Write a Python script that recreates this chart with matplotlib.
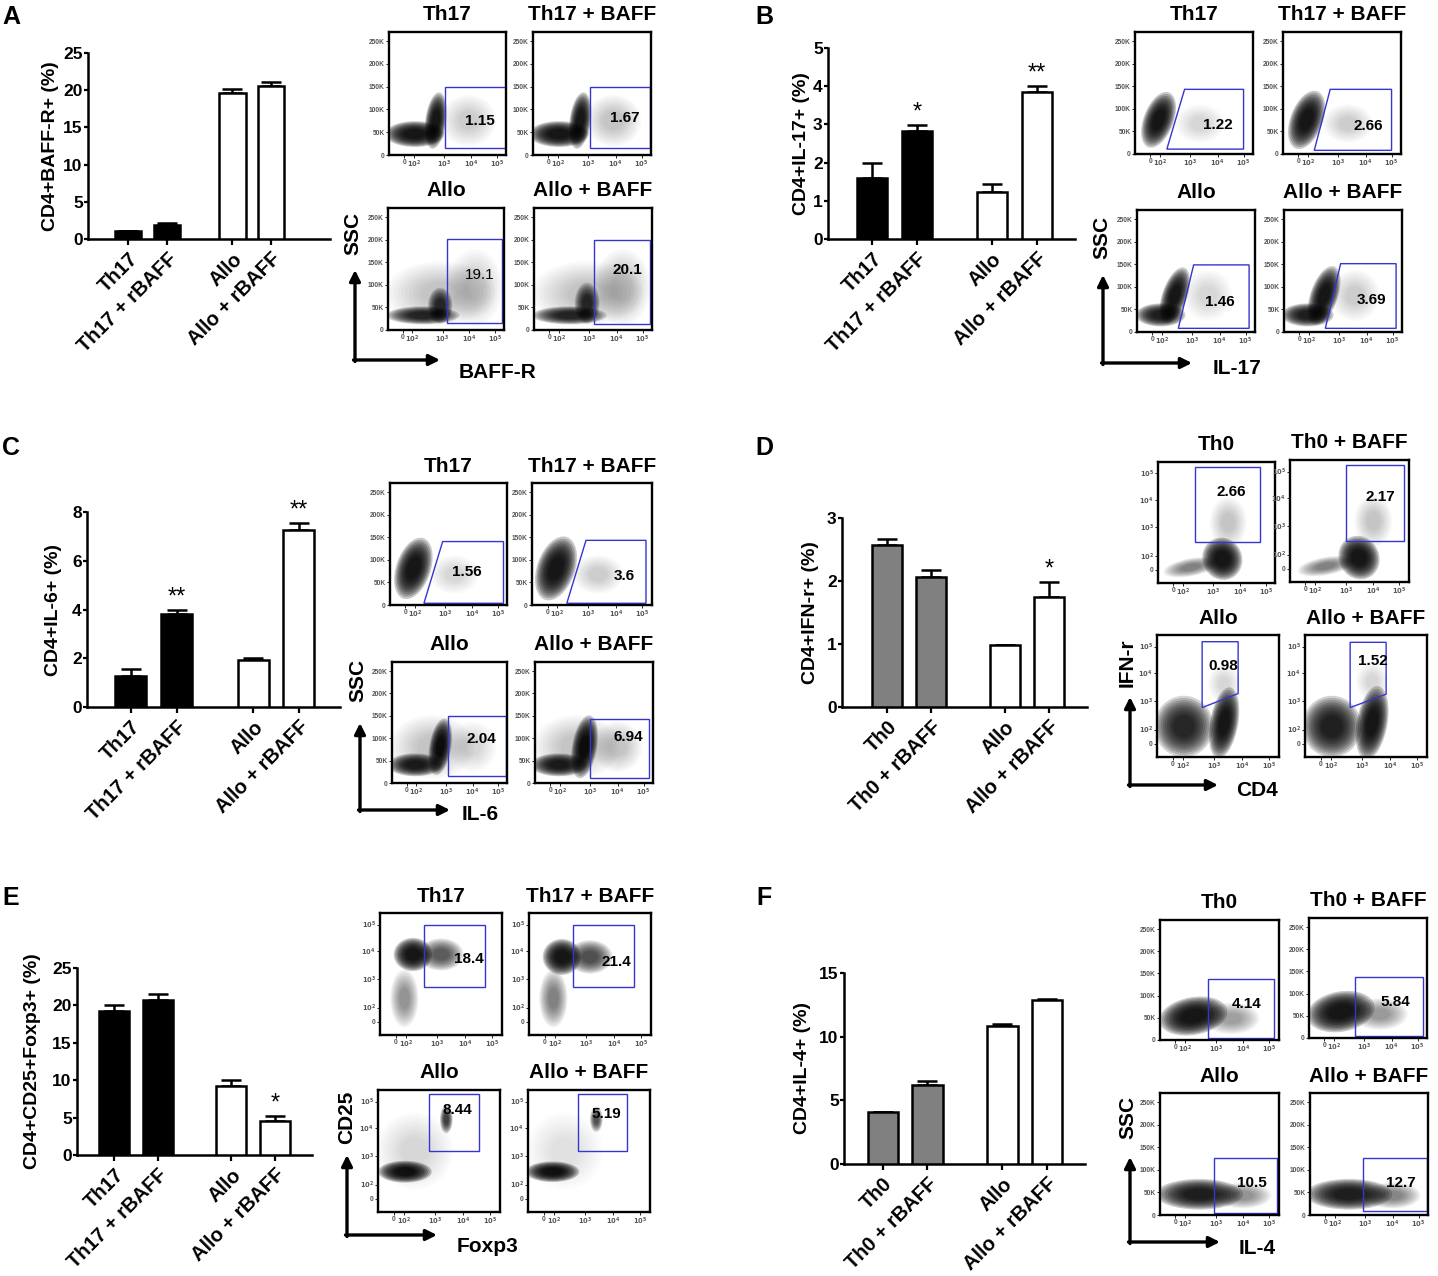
import numpy as np
import matplotlib.pyplot as plt
from matplotlib.patches import Ellipse, Polygon

plt.rcParams['font.family'] = ['Liberation Sans', 'DejaVu Sans']
plt.rcParams['font.weight'] = 'bold'

W, H = 1438, 1276

# ---------------- bar chart values (mean, upper SEM) ----------------
TH17_NAMES = ['Th17', 'Th17 + rBAFF', 'Allo', 'Allo + rBAFF']
TH0_NAMES = ['Th0', 'Th0 + rBAFF', 'Allo', 'Allo + rBAFF']

baffr_mean = [1.1, 1.9, 19.6, 20.5]
baffr_err = [0.0, 0.2, 0.5, 0.6]
baffr_star = ['', '', '', '']

il17_mean = [1.6, 2.82, 1.22, 3.84]
il17_err = [0.39, 0.16, 0.23, 0.17]
il17_star = ['', '*', '', '**']

il6_mean = [1.26, 3.83, 1.92, 7.25]
il6_err = [0.31, 0.17, 0.1, 0.3]
il6_star = ['', '**', '', '**']

ifng_mean = [2.57, 2.07, 0.99, 1.74]
ifng_err = [0.1, 0.11, 0.0, 0.25]
ifng_star = ['', '', '', '*']

treg_mean = [19.3, 20.76, 9.24, 4.6]
treg_err = [0.8, 0.8, 0.8, 0.67]
treg_star = ['', '', '', '*']

il4_mean = [4.12, 6.19, 10.81, 12.86]
il4_err = [0.0, 0.34, 0.19, 0.11]
il4_star = ['', '', '', '']

# ---------------- flow plots: titles and gate percentages ----------------
TH17_TITLES = ['Th17', 'Th17 + BAFF', 'Allo', 'Allo + BAFF']
TH0_TITLES = ['Th0', 'Th0 + BAFF', 'Allo', 'Allo + BAFF']

baffr_pct = ['1.15', '1.67', '19.1', '20.1']
il17_pct = ['1.22', '2.66', '1.46', '3.69']
il6_pct = ['1.56', '3.6', '2.04', '6.94']
ifng_pct = ['2.66', '2.17', '0.98', '1.52']
treg_pct = ['18.4', '21.4', '8.44', '5.19']
il4_pct = ['4.14', '5.84', '10.5', '12.7']

SSC_TICKS = ['0', '50K', '100K', '150K', '200K', '250K']
LOG_TICKS = ['0', r'$10^2$', r'$10^3$', r'$10^4$', r'$10^5$']

# ---------------- layout helpers ----------------
POS = [0, 1, 2.68, 3.68]
BAR_W = 0.68
BLACK, GREY, WHITE = 'black', '#808080', 'white'

fig = plt.figure(figsize=(W / 100, H / 100), dpi=100)


def px_axes(x0, y0, x1, y1):
    return fig.add_axes([x0 / W, 1 - y1 / H, (x1 - x0) / W, (y1 - y0) / H])


def bar_panel(box, xlim, names, mean, err, star, fills, ymax, ystep, ylabel, ylab_x):
    x0, ytop, x1, ybot = box
    ax = px_axes(x0, ytop, x1, ybot)
    ax.bar(POS, mean, width=BAR_W, color=fills, edgecolor='black', linewidth=1.8, zorder=3)
    ax.errorbar(POS, mean, yerr=[np.zeros(4), err], fmt='none', ecolor='black',
                elinewidth=1.8, capsize=7, capthick=1.8, zorder=2)
    for p, m, e, s in zip(POS, mean, err, star):
        if s:
            ax.annotate(s, (p, m + e), xytext=(0, 1), textcoords='offset points',
                        ha='center', va='bottom', fontsize=17, fontweight='normal',
                        annotation_clip=False)
    ax.set_xlim(*xlim)
    ax.set_ylim(0, ymax)
    ticks = np.arange(0, ymax + 0.001, ystep)
    ax.set_yticks(ticks)
    ax.set_yticklabels([f'{v:g}' for v in ticks], fontsize=12.5, fontweight='bold')
    ax.set_xticks(POS)
    ax.set_xticklabels(names, rotation=45, ha='right', rotation_mode='anchor',
                       fontsize=14.5, fontweight='bold')
    for sp in ['top', 'right']:
        ax.spines[sp].set_visible(False)
    for sp in ['left', 'bottom']:
        ax.spines[sp].set_linewidth(1.8)
    ax.tick_params(axis='y', direction='out', length=3, width=1.6, pad=0.8)
    ax.tick_params(axis='x', direction='out', length=4.5, width=1.6, pad=3)
    ax.set_ylabel(ylabel, fontsize=14, fontweight='bold')
    ax.yaxis.set_label_coords((ylab_x + 9 - x0) / (x1 - x0), 0.5)
    ax.patch.set_alpha(0)
    return ax


def draw_cloud(ax, c):
    cx, cy, w, h, ang, d = c
    for k in range(10):
        s = 1.05 - 0.075 * k
        ax.add_patch(Ellipse((cx, cy), w * s, h * s, angle=ang, facecolor='black',
                             edgecolor='none', alpha=0.21 * d))


def flow_plot(box, title, pct, gate, clouds, kind, bold=True):
    x0, y0, x1, y1 = box
    ax = px_axes(x0, y0, x1, y1)
    ax.set_xlim(0, 1)
    ax.set_ylim(0, 1)
    for c in clouds:
        draw_cloud(ax, c)
    ax.add_patch(Polygon(gate, closed=True, fill=False, edgecolor='#3535d0', linewidth=1.0))
    ax.text(*pct[1], pct[0], fontsize=11, fontweight='bold' if bold else 'normal',
            ha='center', va='center')
    ax.set_xticks([0.13, 0.21, 0.47, 0.70, 0.92])
    ax.set_xticklabels(LOG_TICKS)
    if kind == 'ssc':
        ax.set_yticks([0.0, 0.185, 0.37, 0.555, 0.74, 0.925])
        ax.set_yticklabels(SSC_TICKS)
    else:
        ax.set_yticks([0.11, 0.225, 0.46, 0.685, 0.905])
        ax.set_yticklabels(LOG_TICKS)
    ax.tick_params(length=2, width=0.6, labelsize=4.8, labelcolor='#555555', pad=1)
    for sp in ax.spines.values():
        sp.set_linewidth(1.7)
    fig.text((x0 + x1) / 2 / W, 1 - (y0 - 17) / H, title, fontsize=15,
             fontweight='bold', ha='center', va='center')
    return ax


def rect(xa, xb, ya, yb):
    return [(xa, ya), (xa, yb), (xb, yb), (xb, ya)]


def flow_block(boxes, titles, pcts, label_xy, gates, clouds, kinds, bolds=(True,) * 4):
    for i in range(4):
        flow_plot(boxes[i], titles[i], (pcts[i], label_xy[i]), gates[i], clouds[i],
                  kinds, bolds[i])


# ---------------- bar charts ----------------
bar_panel((88, 53, 330, 239), (-1.03, 5.19), TH17_NAMES, baffr_mean, baffr_err, baffr_star,
          [BLACK, BLACK, WHITE, WHITE], 25, 5, 'CD4+BAFF-R+ (%)', 50)
bar_panel((828, 48, 1075, 239), (-0.98, 4.53), TH17_NAMES, il17_mean, il17_err, il17_star,
          [BLACK, BLACK, WHITE, WHITE], 5, 1, 'CD4+IL-17+ (%)', 801)
bar_panel((87, 512, 340, 707), (-0.96, 4.58), TH17_NAMES, il6_mean, il6_err, il6_star,
          [BLACK, BLACK, WHITE, WHITE], 8, 2, 'CD4+IL-6+ (%)', 53)
bar_panel((842, 518, 1087, 707), (-1.02, 4.54), TH0_NAMES, ifng_mean, ifng_err, ifng_star,
          [GREY, GREY, WHITE, WHITE], 3, 1, 'CD4+IFN-r+ (%)', 810)
bar_panel((77, 968, 312, 1155), (-0.85, 4.53), TH17_NAMES, treg_mean, treg_err, treg_star,
          [BLACK, BLACK, WHITE, WHITE], 25, 5, 'CD4+CD25+Foxp3+ (%)', 32)
bar_panel((844, 973, 1085, 1164), (-0.87, 4.53), TH0_NAMES, il4_mean, il4_err, il4_star,
          [GREY, GREY, WHITE, WHITE], 15, 5, 'CD4+IL-4+ (%)', 802)

# ---------------- flow plots ----------------
# A: BAFF-R vs SSC
flow_block(
    [(389, 32, 506, 155), (533, 32, 651, 155), (388, 208, 504, 330), (534, 208, 652, 330)],
    TH17_TITLES, baffr_pct,
    [(0.78, 0.28), (0.78, 0.30), (0.79, 0.45), (0.79, 0.49)],
    [rect(0.48, 1.0, 0.06, 0.55), rect(0.48, 0.995, 0.06, 0.55),
     rect(0.51, 0.985, 0.055, 0.745), rect(0.51, 0.985, 0.05, 0.74)],
    [[(0.22, 0.17, 0.48, 0.2, 0, 1.0), (0.4, 0.28, 0.17, 0.44, -8, 1.0), (0.68, 0.28, 0.45, 0.4, 0, 0.1)],
     [(0.22, 0.17, 0.48, 0.2, 0, 1.0), (0.4, 0.28, 0.17, 0.44, -8, 1.0), (0.68, 0.28, 0.45, 0.4, 0, 0.12)],
     [(0.3, 0.12, 0.6, 0.14, 0, 0.8), (0.45, 0.2, 0.2, 0.28, 0, 0.7), (0.45, 0.3, 0.9, 0.5, 0, 0.12), (0.75, 0.35, 0.45, 0.6, 0, 0.1)],
     [(0.3, 0.12, 0.6, 0.14, 0, 0.8), (0.45, 0.22, 0.2, 0.32, 0, 0.7), (0.45, 0.3, 0.9, 0.5, 0, 0.12), (0.75, 0.35, 0.45, 0.6, 0, 0.12)]],
    'ssc', (True, True, False, True))

# B: IL-17 vs SSC
flow_block(
    [(1135, 32, 1253, 154), (1283, 32, 1401, 154), (1137, 210, 1255, 332), (1284, 210, 1402, 332)],
    TH17_TITLES, il17_pct,
    [(0.70, 0.24), (0.72, 0.23), (0.70, 0.25), (0.74, 0.26)],
    [[(0.27, 0.04), (0.42, 0.53), (0.92, 0.53), (0.92, 0.04)],
     [(0.265, 0.03), (0.40, 0.53), (0.92, 0.53), (0.92, 0.03)],
     [(0.35, 0.03), (0.48, 0.55), (0.95, 0.55), (0.95, 0.03)],
     [(0.35, 0.03), (0.48, 0.56), (0.95, 0.56), (0.95, 0.03)]],
    [[(0.2, 0.28, 0.24, 0.46, -22, 1.0), (0.55, 0.25, 0.4, 0.3, 0, 0.08)],
     [(0.2, 0.28, 0.26, 0.48, -22, 1.0), (0.55, 0.25, 0.4, 0.3, 0, 0.1)],
     [(0.2, 0.14, 0.4, 0.18, 0, 0.9), (0.32, 0.3, 0.2, 0.46, -20, 1.0), (0.6, 0.3, 0.4, 0.4, 0, 0.08)],
     [(0.2, 0.14, 0.42, 0.18, 0, 0.9), (0.34, 0.3, 0.22, 0.48, -20, 1.0), (0.6, 0.3, 0.4, 0.4, 0, 0.1)]],
    'ssc')

# C: IL-6 vs SSC
flow_block(
    [(390, 483, 507, 605), (532, 483, 652, 605), (392, 662, 507, 783), (535, 662, 653, 783)],
    TH17_TITLES, il6_pct,
    [(0.66, 0.27), (0.77, 0.24), (0.78, 0.36), (0.79, 0.38)],
    [[(0.29, 0.014), (0.45, 0.52), (0.97, 0.52), (0.97, 0.014)],
     [(0.29, 0.014), (0.45, 0.53), (0.95, 0.53), (0.95, 0.014)],
     rect(0.49, 0.99, 0.055, 0.55), rect(0.465, 0.965, 0.04, 0.53)],
    [[(0.2, 0.3, 0.28, 0.5, -20, 1.0), (0.55, 0.25, 0.4, 0.3, 0, 0.08)],
     [(0.2, 0.3, 0.3, 0.52, -20, 1.0), (0.55, 0.25, 0.4, 0.3, 0, 0.1)],
     [(0.2, 0.15, 0.45, 0.18, 0, 0.9), (0.42, 0.3, 0.18, 0.45, -10, 1.0), (0.35, 0.3, 0.7, 0.5, 0, 0.12), (0.7, 0.3, 0.4, 0.4, 0, 0.08)],
     [(0.2, 0.15, 0.45, 0.18, 0, 0.9), (0.42, 0.3, 0.2, 0.5, -10, 1.0), (0.35, 0.3, 0.7, 0.5, 0, 0.12), (0.7, 0.3, 0.4, 0.4, 0, 0.12)]],
    'ssc')

# D: CD4 vs IFN-r
flow_block(
    [(1158, 462, 1275, 583), (1290, 460, 1409, 582), (1157, 635, 1279, 757), (1305, 635, 1427, 757)],
    TH0_TITLES, ifng_pct,
    [(0.63, 0.75), (0.76, 0.70), (0.54, 0.745), (0.556, 0.79)],
    [rect(0.32, 0.87, 0.34, 0.96), rect(0.47, 0.96, 0.34, 0.96),
     [(0.37, 0.405), (0.37, 0.945), (0.665, 0.945), (0.665, 0.52)],
     [(0.37, 0.405), (0.37, 0.94), (0.665, 0.94), (0.665, 0.515)]],
    [[(0.55, 0.2, 0.32, 0.34, 35, 1.0), (0.28, 0.13, 0.45, 0.14, 10, 0.3), (0.6, 0.5, 0.3, 0.4, 0, 0.12)],
     [(0.58, 0.2, 0.32, 0.35, 35, 1.0), (0.3, 0.13, 0.45, 0.14, 10, 0.3), (0.7, 0.5, 0.3, 0.4, 0, 0.12)],
     [(0.22, 0.25, 0.46, 0.48, 0, 0.8), (0.55, 0.28, 0.22, 0.56, -10, 1.0), (0.55, 0.6, 0.25, 0.3, 0, 0.08)],
     [(0.22, 0.25, 0.46, 0.48, 0, 0.85), (0.55, 0.28, 0.24, 0.58, -10, 1.0), (0.55, 0.62, 0.25, 0.3, 0, 0.08)]],
    'log')

# E: Foxp3 vs CD25
flow_block(
    [(380, 913, 502, 1035), (529, 913, 651, 1035), (378, 1090, 500, 1212), (528, 1090, 650, 1212)],
    TH17_TITLES, treg_pct,
    [(0.725, 0.62), (0.72, 0.60), (0.65, 0.84), (0.64, 0.80)],
    [rect(0.36, 0.86, 0.39, 0.90), rect(0.357, 0.86, 0.39, 0.90),
     rect(0.42, 0.83, 0.50, 0.967), rect(0.41, 0.81, 0.50, 0.967)],
    [[(0.27, 0.66, 0.3, 0.26, 0, 1.0), (0.5, 0.66, 0.35, 0.25, 0, 0.45), (0.2, 0.3, 0.22, 0.45, 0, 0.25)],
     [(0.27, 0.64, 0.3, 0.28, 0, 1.0), (0.5, 0.64, 0.35, 0.26, 0, 0.5), (0.2, 0.3, 0.22, 0.45, 0, 0.3)],
     [(0.22, 0.33, 0.42, 0.17, 0, 1.0), (0.3, 0.5, 0.6, 0.6, 0, 0.07), (0.56, 0.76, 0.1, 0.22, 0, 0.6)],
     [(0.2, 0.33, 0.42, 0.16, 0, 1.0), (0.3, 0.5, 0.6, 0.6, 0, 0.05), (0.56, 0.76, 0.1, 0.2, 0, 0.5)]],
    'log')

# F: IL-4 vs SSC
flow_block(
    [(1160, 920, 1279, 1040), (1309, 918, 1427, 1038), (1160, 1093, 1279, 1215), (1310, 1093, 1428, 1215)],
    TH0_TITLES, il4_pct,
    [(0.73, 0.30), (0.73, 0.30), (0.77, 0.26), (0.77, 0.26)],
    [rect(0.40, 0.96, 0.014, 0.51), rect(0.39, 0.97, 0.02, 0.51),
     rect(0.455, 0.98, 0.02, 0.466), rect(0.45, 0.99, 0.03, 0.47)],
    [[(0.28, 0.2, 0.55, 0.3, 10, 1.0), (0.6, 0.18, 0.45, 0.25, 0, 0.2)],
     [(0.27, 0.22, 0.55, 0.32, 10, 1.0), (0.6, 0.2, 0.45, 0.25, 0, 0.22)],
     [(0.33, 0.17, 0.7, 0.24, 0, 0.9), (0.7, 0.16, 0.45, 0.2, 0, 0.25)],
     [(0.33, 0.17, 0.7, 0.24, 0, 0.9), (0.7, 0.16, 0.45, 0.2, 0, 0.28)]],
    'ssc')

# ---------------- overlay: panel letters, axis arrows ----------------
ov = fig.add_axes([0, 0, 1, 1])
ov.set_xlim(0, W)
ov.set_ylim(H, 0)
ov.axis('off')

for letter, (lx, ly) in zip('ABCDEF', [(11, 17), (764, 17), (11, 448), (764, 448), (11, 898), (764, 898)]):
    ov.text(lx, ly, letter, fontsize=18, fontweight='bold', ha='center', va='center')

ARROWS = [
    ((355, 360), 270, 440, 'SSC', (353, 233), 'BAFF-R', (497, 373)),
    ((1103, 363), 275, 1192, 'SSC', (1102, 237), 'IL-17', (1237, 368)),
    ((360, 810), 723, 450, 'SSC', (358, 680), 'IL-6', (480, 814)),
    ((1130, 785), 697, 1218, 'IFN-r', (1127, 663), 'CD4', (1257, 790)),
    ((347, 1235), 1155, 437, 'CD25', (347, 1117), 'Foxp3', (487, 1247)),
    ((1130, 1242), 1157, 1220, 'SSC', (1128, 1117), 'IL-4', (1257, 1248)),
]
for (cx, cy), top, right, ylab, ypos, xlab, xpos in ARROWS:
    ov.annotate('', xy=(cx, top), xytext=(cx, cy + 1.5),
                arrowprops=dict(arrowstyle='-|>', color='black', lw=2.4, mutation_scale=16,
                                shrinkA=0, shrinkB=0))
    ov.annotate('', xy=(right, cy), xytext=(cx - 1.5, cy),
                arrowprops=dict(arrowstyle='-|>', color='black', lw=2.4, mutation_scale=16,
                                shrinkA=0, shrinkB=0))
    ov.text(ypos[0], ypos[1], ylab, rotation=90, fontsize=15, fontweight='bold',
            ha='center', va='center')
    ov.text(xpos[0], xpos[1], xlab, fontsize=15, fontweight='bold', ha='center', va='center')

fig.savefig('out.png', dpi=100)
